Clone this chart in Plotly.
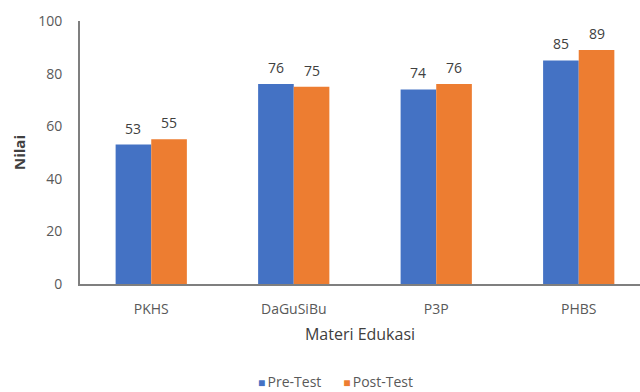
import plotly.graph_objects as go

categories = ["PKHS", "DaGuSiBu", "P3P", "PHBS"]
pre_test = [53, 76, 74, 85]
post_test = [55, 75, 76, 89]
series_names = ["Pre-Test", "Post-Test"]
y_ticks = [0, 20, 40, 60, 80, 100]

BLUE = "#4472C4"
ORANGE = "#ED7D31"
FONT = "Open Sans"
GREY = "#595959"
DARK = "#404040"

fig = go.Figure()
fig.add_trace(go.Bar(x=categories, y=pre_test, name=series_names[0],
                     marker=dict(color=BLUE, line=dict(width=0))))
fig.add_trace(go.Bar(x=categories, y=post_test, name=series_names[1],
                     marker=dict(color=ORANGE, line=dict(width=0))))

# value labels above each bar, offset to the bar's half of the group
for vals, shift in ((pre_test, -18), (post_test, 18)):
    for c, v in zip(categories, vals):
        fig.add_annotation(x=c, y=v, text=str(v), showarrow=False,
                           xshift=shift, yshift=5, yanchor="bottom",
                           font=dict(family=FONT, size=14, color=DARK))

# compact legend row under the chart: small coloured square + series name
legend_html = "&nbsp;&nbsp;&nbsp;&nbsp;&nbsp;&nbsp;".join(
    f"<span style='color:{col}; font-size:12px'>■</span>&#8201;{name}"
    for col, name in zip((BLUE, ORANGE), series_names)
)
fig.add_annotation(xref="paper", yref="paper", x=(335 - 80) / 560, y=-0.372,
                   xanchor="center", yanchor="middle", showarrow=False,
                   text=legend_html,
                   font=dict(family=FONT, size=14, color=GREY))

fig.update_layout(
    width=640, height=392,
    margin=dict(l=80, r=0, t=21, b=108),
    paper_bgcolor="white", plot_bgcolor="white",
    barmode="group", bargap=0.5, bargroupgap=0,
    font=dict(family=FONT, color=GREY),
    showlegend=False,
)
fig.update_xaxes(
    range=[-0.5, 3.43],
    showline=True, linecolor="#7f7f7f", linewidth=2,
    showgrid=False, ticks="", ticklabelstandoff=11,
    tickfont=dict(family=FONT, size=14, color=GREY),
    title=dict(text="Materi Edukasi", standoff=12,
               font=dict(family=FONT, size=16, color=DARK)),
)
fig.update_yaxes(
    range=[0, 100], tickvals=y_ticks,
    showline=True, linecolor="#7f7f7f", linewidth=2,
    showgrid=False, zeroline=False, ticks="", ticklabelstandoff=13,
    tickfont=dict(family=FONT, size=14, color=GREY),
    title=dict(text="<b>Nilai</b>", standoff=9,
               font=dict(family=FONT, size=15, color=DARK)),
)

fig.write_html("out.html")
